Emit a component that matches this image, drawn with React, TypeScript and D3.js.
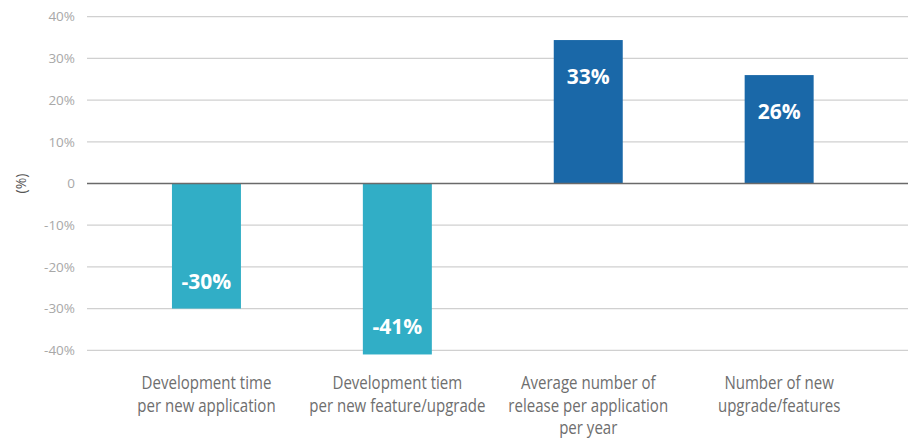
import React from "react";
import * as d3 from "d3";

const categories: string[][] = [
  ["Development time", "per new application"],
  ["Development tiem", "per new feature/upgrade"],
  ["Average number of", "release per application", "per year"],
  ["Number of new", "upgrade/features"],
];
const values: number[] = [-30, -41, 34.4, 26];
const valueLabels: string[] = ["-30%", "-41%", "33%", "26%"];
const tickValues: number[] = [40, 30, 20, 10, 0, -10, -20, -30, -40];

const W = 908;
const H = 439;
const margin = { top: 16.7, bottom: 88.7, left: 87, right: 0 };

export default function App() {
  const y = d3.scaleLinear().domain([-40, 40]).range([H - margin.bottom, margin.top]);
  const x = d3
    .scaleBand<number>()
    .domain(values.map((_, i) => i))
    .range([111, 874.6])
    .paddingInner(0.6386)
    .paddingOuter(0.3193);
  return (
    <svg width={W} height={H} style={{ position: "absolute", left: 0, top: 0, background: "#fff" }}>
      {tickValues.map((t) => (
        <g key={t}>
          {t !== 0 && (
            <line x1={margin.left} x2={W} y1={y(t)} y2={y(t)} stroke="#d0d0d0" strokeWidth={1.2} />
          )}
          <text
            x={75}
            y={y(t)}
            dy="0.35em"
            textAnchor="end"
            fontFamily="'Open Sans', sans-serif"
            fontSize={13.5}
            fill="#a8a8a8"
          >
            {t === 0 ? "0" : `${t}%`}
          </text>
        </g>
      ))}
      {values.map((v, i) => {
        const bx = x(i)!;
        const bw = x.bandwidth();
        const top = y(Math.max(0, v));
        const bot = y(Math.min(0, v));
        const cx = bx + bw / 2;
        const ly = v >= 0 ? top + 44 : bot - 20;
        return (
          <g key={i}>
            <rect x={bx} y={top} width={bw} height={bot - top} fill={v >= 0 ? "#1a68a8" : "#31aec6"} />
            <text
              x={cx}
              y={ly}
              textAnchor="middle"
              fontFamily="'Open Sans', sans-serif"
              fontWeight={700}
              fontSize={21}
              fill="#fff"
            >
              {valueLabels[i]}
            </text>
            {categories[i].map((line, j) => (
              <text
                key={j}
                transform={`translate(${cx}, ${389 + j * 22.5}) scale(0.86, 1)`}
                textAnchor="middle"
                fontFamily="'Open Sans', sans-serif"
                fontSize={17.5}
                fill="#6e6e6e"
              >
                {line}
              </text>
            ))}
          </g>
        );
      })}
      <line x1={margin.left} x2={W} y1={y(0)} y2={y(0)} stroke="#6a6a6a" strokeWidth={1.3} />
      <text
        transform={`translate(26, ${y(0)}) rotate(-90)`}
        textAnchor="middle"
        fontFamily="'Open Sans', sans-serif"
        fontSize={14}
        fill="#555"
      >
        (%)
      </text>
    </svg>
  );
}
